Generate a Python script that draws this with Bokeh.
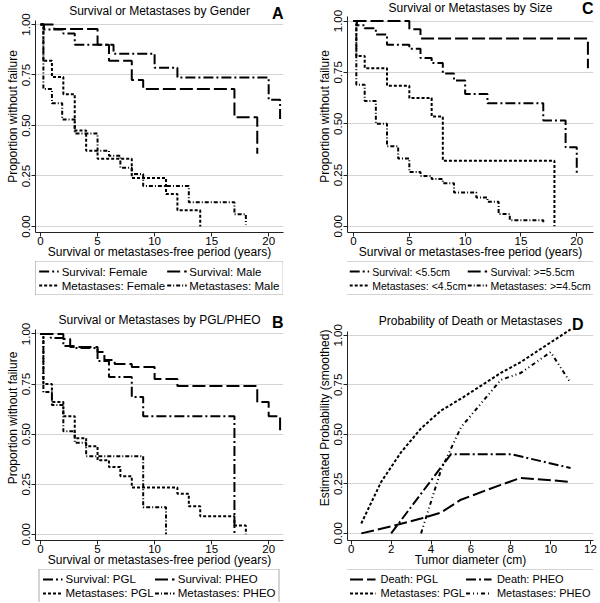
from bokeh.plotting import figure
from bokeh.models import Legend, LegendItem, Range1d, NumeralTickFormatter
from bokeh.core.properties import value
from bokeh.layouts import gridplot
from bokeh.embed import file_html
from bokeh.resources import INLINE

FONT = "Liberation Sans"

# ---------------- Panel A: by gender ----------------
a_surv_female_t = [0, 0.3, 2.0, 3.0, 6.4, 10, 12, 20, 21]
a_surv_female_s = [1.0, 0.975, 0.955, 0.90, 0.855, 0.785, 0.737, 0.627, 0.525]
a_surv_male_t = [0, 1.2, 5, 6, 8, 9, 17, 19]
a_surv_male_s = [1.0, 0.978, 0.90, 0.82, 0.725, 0.68, 0.54, 0.36]
a_met_female_t = [0, 0.25, 1, 2, 3, 4, 5, 8, 11, 12, 14]
a_met_female_s = [1.0, 0.82, 0.74, 0.655, 0.475, 0.375, 0.335, 0.24, 0.16, 0.08, 0.0]
a_met_male_t = [0, 0.25, 1, 1.9, 3, 5, 6, 7, 8, 9, 13, 17, 18]
a_met_male_s = [1.0, 0.68, 0.61, 0.53, 0.46, 0.375, 0.35, 0.29, 0.26, 0.20, 0.12, 0.06, 0.01]

# ---------------- Panel B: by PGL/PHEO ----------------
b_surv_pgl_t = [0, 0.9, 2.0, 3.0, 5, 6, 8, 9, 17]
b_surv_pgl_s = [1.0, 0.98, 0.94, 0.93, 0.865, 0.785, 0.686, 0.59, 0.0]
b_surv_pheo_t = [0, 2.0, 2.6, 5, 5.6, 6.5, 8, 10, 12, 19, 20, 21]
b_surv_pheo_s = [1.0, 0.975, 0.935, 0.91, 0.87, 0.85, 0.835, 0.775, 0.74, 0.66, 0.59, 0.52]
b_met_pgl_t = [0, 0.25, 1, 2, 3, 4, 5, 6, 7, 8, 12, 13, 14, 17, 18]
b_met_pgl_s = [1.0, 0.75, 0.66, 0.59, 0.48, 0.44, 0.37, 0.336, 0.29, 0.234, 0.203, 0.14, 0.09, 0.044, 0.0]
b_met_pheo_t = [0, 0.25, 1, 2, 3, 4, 9, 11]
b_met_pheo_s = [1.0, 0.71, 0.645, 0.515, 0.457, 0.39, 0.135, 0.0]

# ---------------- Panel C: by size ----------------
c_surv_small_t = [0, 0.3, 1, 2, 3, 5, 6, 7, 8, 9, 10, 12, 17, 19, 20]
c_surv_small_s = [1.0, 0.98, 0.965, 0.935, 0.885, 0.865, 0.82, 0.795, 0.745, 0.71, 0.645, 0.60, 0.515, 0.385, 0.25]
c_surv_large_t = [0, 5, 6, 21]
c_surv_large_s = [1.0, 0.96, 0.915, 0.77]
c_met_small_t = [0, 0.25, 1, 3, 5, 7, 8, 18]
c_met_small_s = [1.0, 0.83, 0.77, 0.685, 0.625, 0.535, 0.32, 0.0]
c_met_large_t = [0, 0.25, 1, 2, 3, 4, 5, 6, 7, 8, 9, 11, 12, 13, 14, 17]
c_met_large_s = [1.0, 0.69, 0.61, 0.50, 0.39, 0.33, 0.265, 0.245, 0.23, 0.21, 0.165, 0.14, 0.12, 0.06, 0.03, 0.01]

# ---------------- Panel D: smoothed probability vs tumor diameter ----------------
d_death_pgl_x = [0.5, 2.0, 3.5, 4.5, 5.5, 7.5, 8.5, 11.0]
d_death_pgl_y = [0.0, 0.035, 0.075, 0.105, 0.17, 0.245, 0.28, 0.26]
d_death_pheo_x = [2.0, 5.0, 8.0, 11.0]
d_death_pheo_y = [0.0, 0.40, 0.40, 0.33]
d_met_pgl_x = [0.5, 1.5, 2.5, 3.5, 4.5, 5.5, 6.5, 7.5, 8.5, 11.0]
d_met_pgl_y = [0.05, 0.26, 0.41, 0.53, 0.62, 0.68, 0.745, 0.81, 0.865, 1.03]
d_met_pheo_x = [3.5, 4.5, 5.5, 7.5, 8.5, 10.0, 11.0]
d_met_pheo_y = [0.0, 0.32, 0.535, 0.775, 0.81, 0.915, 0.76]

y_ticks = [0, 0.25, 0.5, 0.75, 1.0]
km_x_ticks = [0, 5, 10, 15, 20]
d_x_ticks = [0, 2, 4, 6, 8, 10, 12]

DASH_LD = "13 4"        # long dash
DASH_LDD = "10 3 2 3"   # long dash dot
DASH_SD = "3 2"         # short dash (dotted look)
DASH_SDD = "4 2 1 2"    # short dash dot
DASH_SDDD = "4 3 1 3 1 3"

COLW = 300
PH1, LH1 = 261, 34      # top row: panel height, legend strip height
PH2, LH2 = 274, 33      # bottom row
BL_L, BR_L = 35, 17     # borders left column
BL_R, BR_R = 47, 7      # borders right column


def base_panel(title, letter, letter_dx, x_rng, y_rng, title_y, letter_y, xticks,
               xlabel, ylabel, height, bl, br):
    p = figure(width=COLW, height=height, x_range=Range1d(*x_rng), y_range=Range1d(*y_rng),
               output_backend="svg", toolbar_location=None, title=None,
               min_border_left=bl, min_border_right=br, min_border_top=0, min_border_bottom=0)
    p.outline_line_color = None
    p.background_fill_color = "white"
    p.border_fill_color = "white"
    p.xgrid.visible = False
    p.ygrid.grid_line_color = "#d4d4d4"
    p.ygrid.grid_line_width = 1
    p.xaxis.ticker = xticks
    p.yaxis.ticker = y_ticks
    p.yaxis.bounds = (y_rng[0], 1.02)
    p.yaxis.formatter = NumeralTickFormatter(format="0.00")
    p.yaxis.major_label_orientation = "vertical"
    for ax in (p.xaxis, p.yaxis):
        ax.axis_line_color = "#222222"
        ax.axis_line_width = 1
        ax.major_tick_line_color = "#222222"
        ax.major_tick_out = 4
        ax.major_tick_in = 0
        ax.minor_tick_line_color = None
        ax.major_label_text_font = FONT
        ax.major_label_text_font_size = "11.5px"
        ax.major_label_text_color = "black"
        ax.axis_label_text_font = FONT
        ax.axis_label_text_font_size = "12px"
        ax.axis_label_text_font_style = "normal"
        ax.axis_label_text_color = "black"
    p.xaxis.major_label_standoff = 0
    p.xaxis.axis_label_standoff = -3
    p.yaxis.major_label_standoff = 1
    p.yaxis.axis_label_standoff = 0
    p.xaxis.axis_label = xlabel
    p.yaxis.axis_label = ylabel
    p.text(x=[(x_rng[0] + x_rng[1]) / 2], y=[title_y], text=[title],
           text_align="center", text_baseline="middle", text_font=value(FONT),
           text_font_size=value("12px"), text_color="black")
    p.text(x=[x_rng[1]], y=[letter_y], text=[letter], x_offset=letter_dx,
           text_align="right", text_baseline="middle", text_font=value(FONT),
           text_font_size=value("16px"), text_font_style=value("bold"), text_color="black")
    return p


def legend_strip(entries, height, bl, br, font_size, glyph_w, standoff):
    q = figure(width=COLW, height=height, x_range=Range1d(0, 1), y_range=Range1d(0, 1),
               output_backend="svg", toolbar_location=None, title=None,
               x_axis_location=None, y_axis_location=None,
               min_border_left=bl, min_border_right=br, min_border_top=0, min_border_bottom=0)
    q.outline_line_color = None
    q.grid.visible = False
    q.background_fill_color = "white"
    q.border_fill_color = "white"
    rend = {}
    for label, dash in entries:
        rend[label] = q.line([5, 6], [5, 6], line_color="black", line_width=2, line_dash=dash)
    # legend fills column by column: order so rows read (1, 2) / (3, 4)
    order = [entries[0], entries[2], entries[1], entries[3]]
    items = [LegendItem(label=lab, renderers=[rend[lab]]) for lab, d in order]
    leg = Legend(items=items, ncols=2, location="center")
    leg.label_text_font = FONT
    leg.label_text_font_size = font_size
    leg.label_text_color = "black"
    leg.glyph_width = glyph_w
    leg.glyph_height = 13
    leg.label_standoff = standoff
    leg.label_height = 13
    leg.spacing = 1
    leg.padding = 3
    leg.margin = 0
    leg.border_line_color = "#555555"
    leg.border_line_width = 1
    leg.background_fill_color = "white"
    q.add_layout(leg)
    return q


def km_panel(title, letter, letter_dx, series, x_rng, y_rng, title_y, letter_y,
             height, leg_h, bl, br, font_size):
    p = base_panel(title, letter, letter_dx, x_rng, y_rng, title_y, letter_y, km_x_ticks,
                   "Survival or metastases-free period (years)", "Proportion without failure",
                   height, bl, br)
    for t, s, label, dash in series:
        p.step(t, s, mode="after", line_color="black", line_width=2, line_dash=dash)
    leg = legend_strip([(label, dash) for t, s, label, dash in series], leg_h, bl, br,
                       font_size, 20, 3)
    return p, leg


a_series = [
    (a_surv_female_t, a_surv_female_s, "Survival: Female", DASH_LDD),
    (a_surv_male_t, a_surv_male_s, "Survival: Male", DASH_LD),
    (a_met_female_t, a_met_female_s, "Metastases: Female", DASH_SD),
    (a_met_male_t, a_met_male_s, "Metastases: Male", DASH_SDD),
]
c_series = [
    (c_surv_small_t, c_surv_small_s, "Survival: <5.5cm", DASH_LDD),
    (c_surv_large_t, c_surv_large_s, "Survival: >=5.5cm", DASH_LD),
    (c_met_small_t, c_met_small_s, "Metastases: <4.5cm", DASH_SD),
    (c_met_large_t, c_met_large_s, "Metastases: >=4.5cm", DASH_SDD),
]
b_series = [
    (b_surv_pgl_t, b_surv_pgl_s, "Survival: PGL", DASH_LDD),
    (b_surv_pheo_t, b_surv_pheo_s, "Survival: PHEO", DASH_LD),
    (b_met_pgl_t, b_met_pgl_s, "Metastases: PGL", DASH_SD),
    (b_met_pheo_t, b_met_pheo_s, "Metastases: PHEO", DASH_SDD),
]
d_series = [
    (d_death_pgl_x, d_death_pgl_y, "Death: PGL", DASH_LD),
    (d_death_pheo_x, d_death_pheo_y, "Death: PHEO", DASH_LDD),
    (d_met_pgl_x, d_met_pgl_y, "Metastases: PGL", DASH_SD),
    (d_met_pheo_x, d_met_pheo_y, "Metastases: PHEO", DASH_SDDD),
]

pA, lA = km_panel("Survival or Metastases by Gender", "A", 0, a_series,
                  (-0.44, 21.3), (-0.03, 1.1185), 1.065, 1.054,
                  PH1, LH1, BL_L, BR_L, "11.5px")
pC, lC = km_panel("Survival or Metastases by Size", "C", 0, c_series,
                  (-0.54, 21.5), (-0.03, 1.10), 1.063, 1.063,
                  PH1, LH1, BL_R, BR_R, "10.5px")
pB, lB = km_panel("Survival or Metastases by PGL/PHEO", "B", 0, b_series,
                  (-0.44, 21.3), (-0.0306, 1.192), 1.068, 1.056,
                  PH2, LH2, BL_L, BR_L, "11.5px")

pD = base_panel("Probability of Death or Metastases", "D", -10, (-0.19, 12.15), (-0.036, 1.201),
                1.072, 1.057, d_x_ticks, "Tumor diameter (cm)", "Estimated Probability (smoothed)",
                PH2, BL_R, BR_R)
for xs, ys, label, dash in d_series:
    pD.line(xs, ys, line_color="black", line_width=2, line_dash=dash)
lD = legend_strip([(label, dash) for xs, ys, label, dash in d_series], LH2, BL_R, BR_R,
                  "11px", 26, 5)

grid = gridplot([[pA, pC], [lA, lC], [pB, pD], [lB, lD]], toolbar_location=None)
open("out.html", "w").write(file_html(grid, INLINE))
